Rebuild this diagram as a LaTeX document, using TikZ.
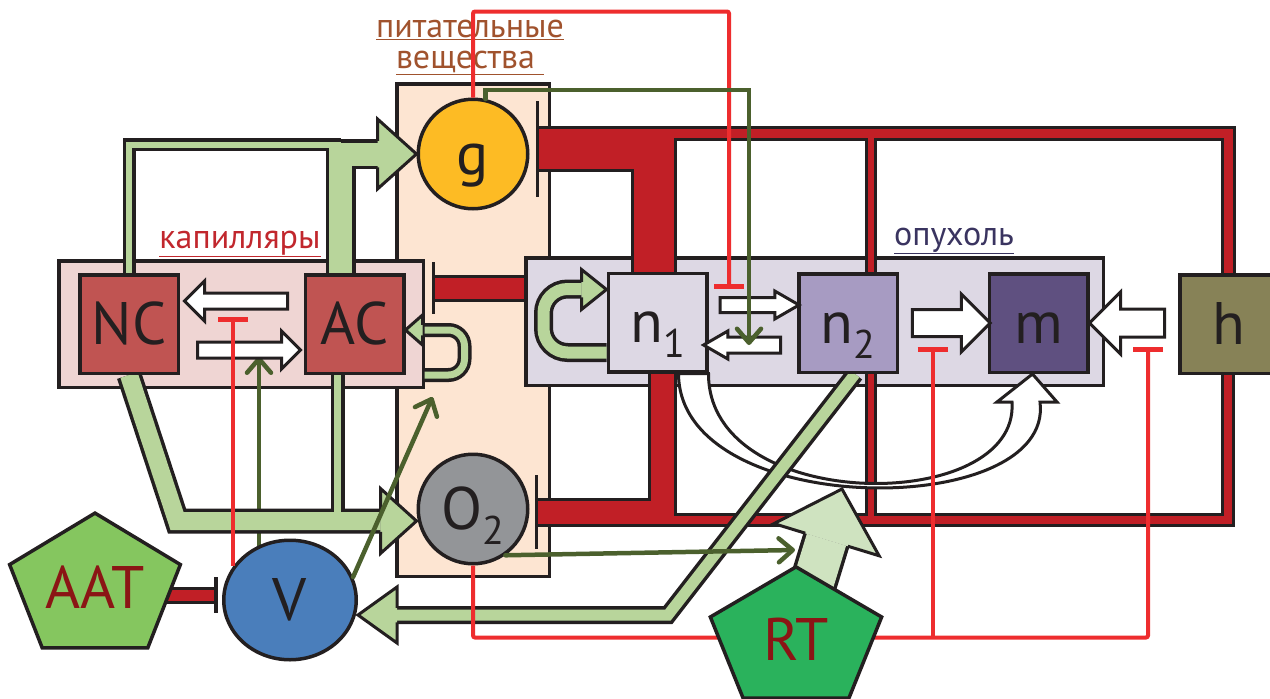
\documentclass[tikz,border=0pt]{standalone}
\usepackage{fontspec}
\setmainfont{PT Sans}
\usetikzlibrary{shapes.geometric, shapes.arrows, arrows.meta, calc}
\definecolor{CapFill}{RGB}{239,213,211}
\definecolor{NutFill}{RGB}{253,229,210}
\definecolor{TumFill}{RGB}{221,216,228}
\definecolor{CellRed}{RGB}{192,84,82}
\definecolor{TumMid}{RGB}{167,155,194}
\definecolor{TumDark}{RGB}{95,80,128}
\definecolor{HypOlive}{RGB}{135,130,87}
\definecolor{GluYellow}{RGB}{253,187,36}
\definecolor{OxGray}{RGB}{147,149,152}
\definecolor{VegfBlue}{RGB}{74,126,187}
\definecolor{AatGreen}{RGB}{133,198,95}
\definecolor{RtGreen}{RGB}{42,178,92}
\definecolor{RtPale}{RGB}{207,227,192}
\definecolor{BandGreen}{RGB}{184,213,155}
\definecolor{ActGreen}{RGB}{75,96,45}
\definecolor{InhRed}{RGB}{238,45,46}
\definecolor{VesRed}{RGB}{193,31,38}
\definecolor{DrugRed}{RGB}{139,21,21}
\definecolor{CapLabel}{RGB}{193,39,45}
\definecolor{NutLabel}{RGB}{160,82,45}
\definecolor{TumLabel}{RGB}{58,52,96}
\definecolor{InkBlack}{RGB}{35,31,32}

\pgfdeclarelayer{frames}
\pgfdeclarelayer{under}
\pgfsetlayers{frames,under,main}

\newcommand{\lowidx}[1]{{\fontsize{40}{40}\selectfont\raisebox{-15pt}{#1}}}

\tikzset{
  frame/.style={draw=InkBlack, line width=3.5pt, inner sep=0pt},
  cellbox/.style={draw=InkBlack, line width=3.5pt, minimum width=98.5pt, minimum height=98.5pt,
    inner sep=0pt, text height=40pt, text depth=0pt, font=\fontsize{60}{60}\selectfont, text=InkBlack},
  pool/.style={cellbox, circle, minimum size=109.5pt},
  drug/.style={regular polygon, regular polygon sides=5, draw=InkBlack, line width=3.5pt,
    inner sep=0pt, transform shape},
  druglabel/.style={font=\fontsize{60}{60}\selectfont, text=DrugRed, inner sep=0pt},
  lab/.style={font=\fontsize{34}{34}\selectfont, inner sep=0pt, anchor=base},
  blockarrow/.style={single arrow, draw=InkBlack, fill=white, line width=3pt, inner xsep=0pt},
  vout/.style={draw=InkBlack, line width=#1},
  vin/.style={draw=VesRed, line width=#1},
  gout/.style={draw=InkBlack, line width=#1},
  gin/.style={draw=BandGreen, line width=#1},
  rimbar/.style={draw=InkBlack, line width=3.5pt},
  inhline/.style={draw=InhRed, line width=4pt, rounded corners=2pt, -{Bar[width=30pt, line width=5pt]}},
  actline/.style={draw=ActGreen, line width=4.5pt, line cap=round, -{Straight Barb[length=14pt, width=24pt, round]}},
  pics/bhead/.style args={#1/#2/#3/#4}{code={
    \filldraw[fill=#1, draw=InkBlack, line width=3pt, line join=miter]
      (-#2,#4/2) -- (-#2,#3/2) -- (0,0) -- (-#2,-#3/2) -- (-#2,-#4/2);
  }}
}

\begin{document}
\begin{tikzpicture}[x=1pt, y=-1pt]
  \path[use as bounding box] (0,0) rectangle (1270,699);

  % compartments
  \begin{pgfonlayer}{frames}
    \node[frame, fill=NutFill, minimum width=152.5pt, minimum height=492.5pt] (nutbox) at (473,330) {};
    \node[frame, fill=CapFill, minimum width=364.5pt, minimum height=126.5pt] (capbox) at (241,324) {};
    \node[frame, fill=TumFill, minimum width=577.5pt, minimum height=127.5pt] (tumbox) at (814.5,321.5) {};
  \end{pgfonlayer}

  % cells and pools
  \node[cellbox, fill=CellRed] (NC) at (129,324) {NC};
  \node[cellbox, fill=CellRed] (AC) at (354.5,324) {AC};
  \node[cellbox, fill=TumFill] (n1) at (657.5,322.5) {n\lowidx{1}};
  \node[cellbox, fill=TumMid] (n2) at (848,323) {n\lowidx{2}};
  \node[cellbox, fill=TumDark] (m) at (1038.5,323) {m};
  \node[cellbox, fill=HypOlive] (h) at (1229,324) {h};
  \node[pool, fill=GluYellow] (g) at (473,154) {g};
  \node[pool, fill=OxGray] (O2) at (473,509) {O\lowidx{2}};
  \node[cellbox, ellipse, minimum width=132.5pt, minimum height=119.5pt, fill=VegfBlue] (V) at (290,600) {V};
  \node[drug, fill=AatGreen, minimum size=149pt, xscale=1.205] (AATp) at (95,587.6) {};
  \node[druglabel] (AAT) at (AATp.center) {AAT};

  % transitions
  \node[blockarrow, minimum height=103pt, minimum width=37pt, inner ysep=6.5pt, single arrow head extend=12pt, shape border rotate=180] (acnc) at (240,301) {};
  \node[blockarrow, minimum height=103pt, minimum width=35pt, inner ysep=6.5pt, single arrow head extend=11pt] (ncac) at (245,350) {};
  \node[blockarrow, minimum height=79pt, minimum width=25pt, inner ysep=6pt, single arrow head extend=6.5pt, single arrow tip angle=60] (n1n2) at (753,305) {};
  \node[blockarrow, minimum height=77pt, minimum width=25pt, inner ysep=6.5pt, single arrow head extend=6pt, single arrow tip angle=60, shape border rotate=180] (n2n1) at (749,345) {};
  \node[blockarrow, minimum height=78pt, minimum width=55pt, inner ysep=12pt, single arrow head extend=15.5pt] (n2m) at (944.5,323) {};
  \node[blockarrow, minimum height=75pt, minimum width=59pt, inner ysep=12.5pt, single arrow head extend=17pt, shape border rotate=180] (hm) at (1134,323) {};

  % labels
  \node[lab, text=CapLabel] (caplab) at (240,248) {\underline{капилляры}};
  \node[lab, text=NutLabel] (nutlab) at (470,37) {\underline{питательные}};
  \node[lab, text=NutLabel] (nutlab2) at (470,68) {\underline{вещества\ }};
  \node[lab, text=TumLabel] (tumlab) at (954,245) {\underline{опухоль}};

  % consumption bars
  \coordinate (gbar) at ([xshift=8pt,yshift=5pt]g.east);
  \coordinate (obar) at ([xshift=7pt,yshift=-3pt]O2.east);
  \coordinate (acbar) at ([xshift=28pt,yshift=36pt]AC.east);
  \coordinate (vbar) at ([xshift=-6pt,yshift=5pt]V.west);
  \draw[rimbar] ([yshift=48pt]gbar) -- ([yshift=-48pt]gbar);
  \draw[rimbar] ([yshift=37pt]obar) -- ([yshift=-37pt]obar);
  \draw[rimbar] ([yshift=26pt]acbar) -- ([yshift=-26pt]acbar);
  \draw[rimbar] ([yshift=18pt]vbar) -- ([yshift=-18pt]vbar);

  % radiation
  \coordinate (rtrail) at ([yshift=-72pt]O2.south);
  \coordinate (inhA) at ([xshift=-12pt,yshift=-24pt]n2m.center);
  \coordinate (inhB) at ([xshift=14pt,yshift=-24pt]hm.center);
  \draw[inhline] (O2.south) -- (rtrail) -| (inhB);
  \draw[inhline] (inhA |- rtrail) -- (inhA);
  \node[drug, fill=RtGreen, minimum size=145pt, xscale=1.242] (RTp) at (796,639.4) {};
  \node[druglabel] (RT) at (RTp.center) {RT};

  \draw[inhline] (g.north) -- ++(0,-86) -| ([xshift=-24pt,yshift=16pt]n1n2.center);
  \draw[inhline] ([xshift=-57pt,yshift=34pt]V.center) -- ([xshift=-7pt,yshift=-16pt]acnc.center);

  \coordinate (rtin) at (795,550);
  \draw[actline] (g.77) -- ++(0,-9) -| (n2n1.center);
  \draw[actline] (V.20) -- ([xshift=27pt,yshift=-22pt]AC.south east);
  \draw[actline] (O2.-55) -- (rtin);

  \begin{pgfonlayer}{under}
    % vessels, black rim first
    \coordinate (toprim) at (654,133);
    \coordinate (botrim) at (662,520);
    \draw[vout=46pt] (gbar) -| ([xshift=-4pt]n1.north);
    \draw[vout=15pt] (toprim) -| ([xshift=-1pt]h.north);
    \draw[vout=12pt] ([xshift=23pt]n2.north |- toprim) -- ([xshift=23pt]n2.north);
    \draw[vout=29pt] (obar) -| ([xshift=5pt]n1.south);
    \draw[vout=14pt] (botrim) -| ([xshift=-1pt]h.south);
    \draw[vout=12pt] ([xshift=23pt]n2.south) -- ([xshift=23pt]n2.south |- botrim);
    \draw[vout=27pt] (acbar) -- (acbar -| tumbox.west);
    \draw[vout=17pt] (AATp.center |- vbar) -- (vbar);
    \draw[vin=40pt] (gbar) -| ([xshift=-4pt]n1.north);
    \draw[vin=9pt] (toprim) -| ([xshift=-1pt]h.north);
    \draw[vin=6pt] ([xshift=23pt]n2.north |- toprim) -- ([xshift=23pt]n2.north);
    \draw[vin=23pt] (obar) -| ([xshift=5pt]n1.south);
    \draw[vin=8pt] (botrim) -| ([xshift=-1pt]h.south);
    \draw[vin=6pt] ([xshift=23pt]n2.south) -- ([xshift=23pt]n2.south |- botrim);
    \draw[vin=21pt] (acbar) -- (acbar -| tumbox.west);
    \draw[vin=11pt] (AATp.center |- vbar) -- (vbar);

    \draw[actline] ([xshift=-31pt,yshift=-8pt]V.north) -- ++(0,-190);

    % metastasis route
    \draw[fill=white, draw=InkBlack, line width=3pt, line join=miter]
      ([xshift=21pt]n1.south) .. controls (679,521) and (1055,521) .. (1040,402)
      -- (1057,402) -- ([xshift=-6pt]m.south) -- (997,402) -- (1012,402)
      .. controls (1020,515) and (708,515) .. (n1.south east) -- cycle;

    % supply bands
    \coordinate (capknee) at (340.5,144.5);
    \draw[gout=13pt] (NC.north) |- (capknee);
    \draw[gout=30pt] ([xshift=-14pt]AC.north) |- ([xshift=-39pt]g.west);
    \draw[gout=25pt] (NC.south) -- ++(48,146) -- ([xshift=-36pt,yshift=-12pt]O2.west);
    \draw[gout=14pt] ([xshift=-17pt]AC.south) -- ++(0,146);
    \draw[gout=18pt] ([xshift=7pt]n2.south) -- ++(-187,241) -- ([xshift=39pt,yshift=-15pt]V.east);
    \draw[gout=14pt, rounded corners=16pt] ([xshift=19pt]AC.south east) -- ++(40,0) -- ++(0,-45) -- ++(-40,0);
    \draw[gout=19pt, rounded corners=24pt] ([yshift=-30pt]n1.west) -- ++(-63,0) -- ++(0,-63.5) -- ++(38,0);
    \draw[gin=6pt] (NC.north) |- (capknee);
    \draw[gin=23pt] ([xshift=-14pt]AC.north) |- ([xshift=-39pt]g.west);
    \draw[gin=18pt] (NC.south) -- ++(48,146) -- ([xshift=-36pt,yshift=-12pt]O2.west);
    \draw[gin=7pt] ([xshift=-17pt]AC.south) -- ++(0,146);
    \draw[gin=11pt] ([xshift=7pt]n2.south) -- ++(-187,241) -- ([xshift=39pt,yshift=-15pt]V.east);
    \draw[gin=7pt, rounded corners=16pt] ([xshift=19pt]AC.south east) -- ++(40,0) -- ++(0,-45) -- ++(-40,0);
    \draw[gin=12pt, rounded corners=24pt] ([yshift=-30pt]n1.west) -- ++(-63,0) -- ++(0,-63.5) -- ++(38,0);
    \pic at (g.west) {bhead={BandGreen/39/70/26.5}};
    \pic at ([yshift=-12pt]O2.west) {bhead={BandGreen/36/65/21.5}};
    \pic[rotate=180] at ([yshift=-15pt]V.east) {bhead={BandGreen/39/56/14.5}};
    \pic[rotate=180] at ([yshift=-6pt]AC.east) {bhead={BandGreen/17/30/10.5}};
    \pic at ([yshift=33pt]n1.west) {bhead={BandGreen/25/40/15.5}};

    % radiation beam
    \coordinate (rttip) at (842,489);
    \draw[gout=48pt] (RTp.center) -- ($(rttip)!53pt!(RTp.center)$);
    \draw[draw=RtPale, line width=41pt] (RTp.center) -- ($(rttip)!53pt!(RTp.center)$);
    \pic[rotate=73] at (rttip) {bhead={RtPale/53/110/44.5}};
  \end{pgfonlayer}
\end{tikzpicture}
\end{document}
